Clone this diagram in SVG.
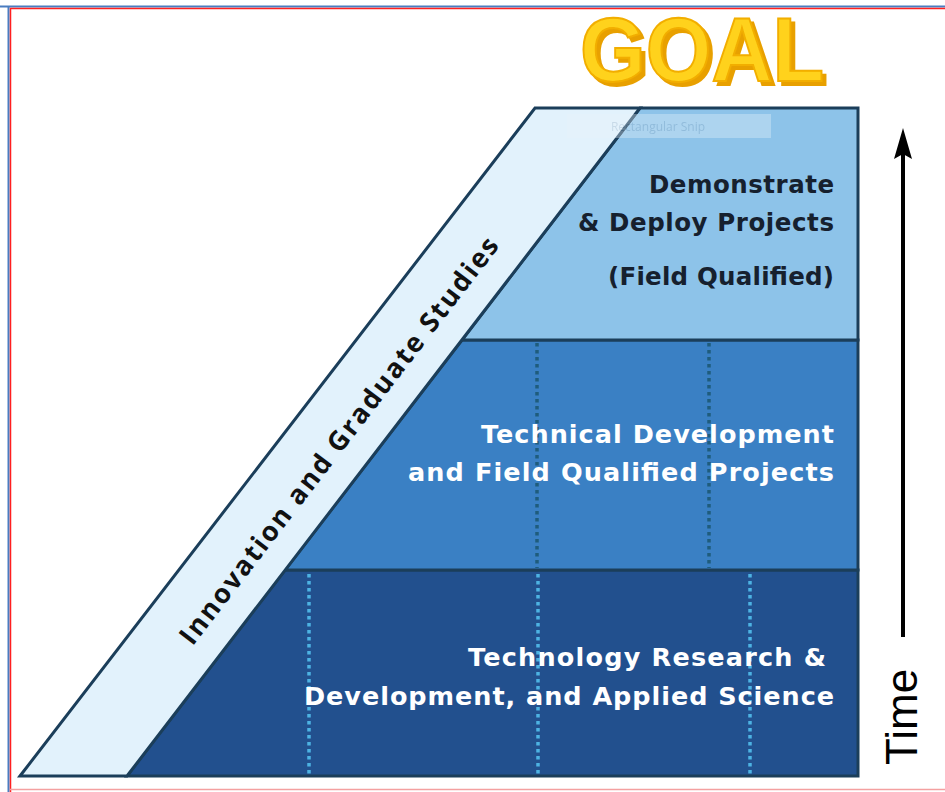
<svg xmlns="http://www.w3.org/2000/svg" width="945" height="792" viewBox="0 0 945 792">
<defs>
<style>
.lay{stroke:#1B3E5A;stroke-width:3;stroke-linejoin:miter}
.dk{font-family:"DejaVu Sans","Open Sans",sans-serif;font-weight:bold;fill:#16202E;text-anchor:end}
.wt{font-family:"DejaVu Sans","Open Sans",sans-serif;font-weight:bold;fill:#FFFFFF;text-anchor:end}
.dotd{stroke:#1F5C7C;stroke-width:3.5;stroke-dasharray:3.5 3.5}
.dotl{stroke:#4DB3E3;stroke-width:3.5;stroke-dasharray:3.5 3.5}
</style>
<filter id="sh" x="-5%" y="-10%" width="115%" height="130%">
<feOffset in="SourceAlpha" dx="4" dy="4" result="o"/>
<feFlood flood-color="#E8A000"/>
<feComposite operator="in" in2="o" result="s"/>
<feMerge><feMergeNode in="s"/><feMergeNode in="SourceGraphic"/></feMerge>
</filter>
</defs>
<rect x="0" y="0" width="945" height="792" fill="#FFFFFF"/>
<g id="frame">
<line x1="0" y1="6.5" x2="945" y2="6.5" stroke="#4A7CC0" stroke-width="2"/>
<line x1="8.5" y1="6" x2="8.5" y2="792" stroke="#4A7CC0" stroke-width="2"/>
<line x1="10" y1="8.5" x2="945" y2="8.5" stroke="#FF2020" stroke-width="1.5"/>
<line x1="10.5" y1="8" x2="10.5" y2="792" stroke="#FF2020" stroke-width="1.5"/>
<line x1="10" y1="789.5" x2="945" y2="789.5" stroke="#F4A0A0" stroke-width="1.5"/>
</g>
<g id="goal">
<text x="580" y="81" font-family="Liberation Sans, Arial, sans-serif" font-weight="bold" font-size="90" textLength="244" lengthAdjust="spacingAndGlyphs" fill="#FFD21A" stroke="#F2AE00" stroke-width="2" filter="url(#sh)">GOAL</text>
</g>
<g id="layer-bottom">
<polygon class="lay" points="127,776 285,570 858,570 858,776" fill="#22508E"/>
<line class="dotl" x1="309" y1="574" x2="309" y2="775"/>
<line class="dotl" x1="538" y1="574" x2="538" y2="775"/>
<line class="dotl" x1="750" y1="574" x2="750" y2="775"/>
<text class="wt" font-size="25.5" x="826" y="666" textLength="358">Technology Research &amp;</text>
<text class="wt" font-size="25.5" x="834" y="705" textLength="530">Development, and Applied Science</text>
</g>
<g id="layer-middle">
<polygon class="lay" points="285,570 462,340 858,340 858,570" fill="#3A80C4"/>
<line class="dotd" x1="537" y1="343" x2="537" y2="568"/>
<line class="dotd" x1="709" y1="343" x2="709" y2="568"/>
<text class="wt" font-size="25.5" x="834" y="443" textLength="353">Technical Development</text>
<text class="wt" font-size="25.5" x="834" y="481" textLength="426">and Field Qualified Projects</text>
</g>
<g id="layer-top">
<polygon class="lay" points="462,340 640,108 858,108 858,340" fill="#8DC3E9"/>
<text class="dk" font-size="24.5" x="834" y="193" textLength="185">Demonstrate</text>
<text class="dk" font-size="24.5" x="834" y="231" textLength="256">&amp; Deploy Projects</text>
<text class="dk" font-size="24.5" x="834" y="285" textLength="226">(Field Qualified)</text>
</g>
<g id="band">
<polygon class="lay" points="20,776 535,108 640,108 127,776" fill="#E2F2FC"/>
<text x="0" y="0" transform="translate(338,440) rotate(-52.5)" font-family="Open Sans, Liberation Sans, sans-serif" font-weight="bold" font-size="27" fill="#111" text-anchor="middle" dominant-baseline="central" textLength="505">Innovation and Graduate Studies</text>
</g>
<g id="snip" opacity="0.35">
<rect x="567" y="114" width="204" height="24" fill="#EAF4FB"/>
<text x="658" y="131" font-family="Open Sans, Liberation Sans, sans-serif" font-size="12" fill="#9AB0C4" text-anchor="middle">Rectangular Snip</text>
</g>
<g id="connectors">
<line x1="903" y1="637" x2="903" y2="150" stroke="#000" stroke-width="4"/>
<polygon points="903,128 912,159 903,154 894,159" fill="#000"/>
</g>
<g id="time">
<text x="0" y="0" transform="translate(917,765) rotate(-90)" font-family="Liberation Sans, Arial, sans-serif" font-size="44" fill="#000">Time</text>
</g>
</svg>
